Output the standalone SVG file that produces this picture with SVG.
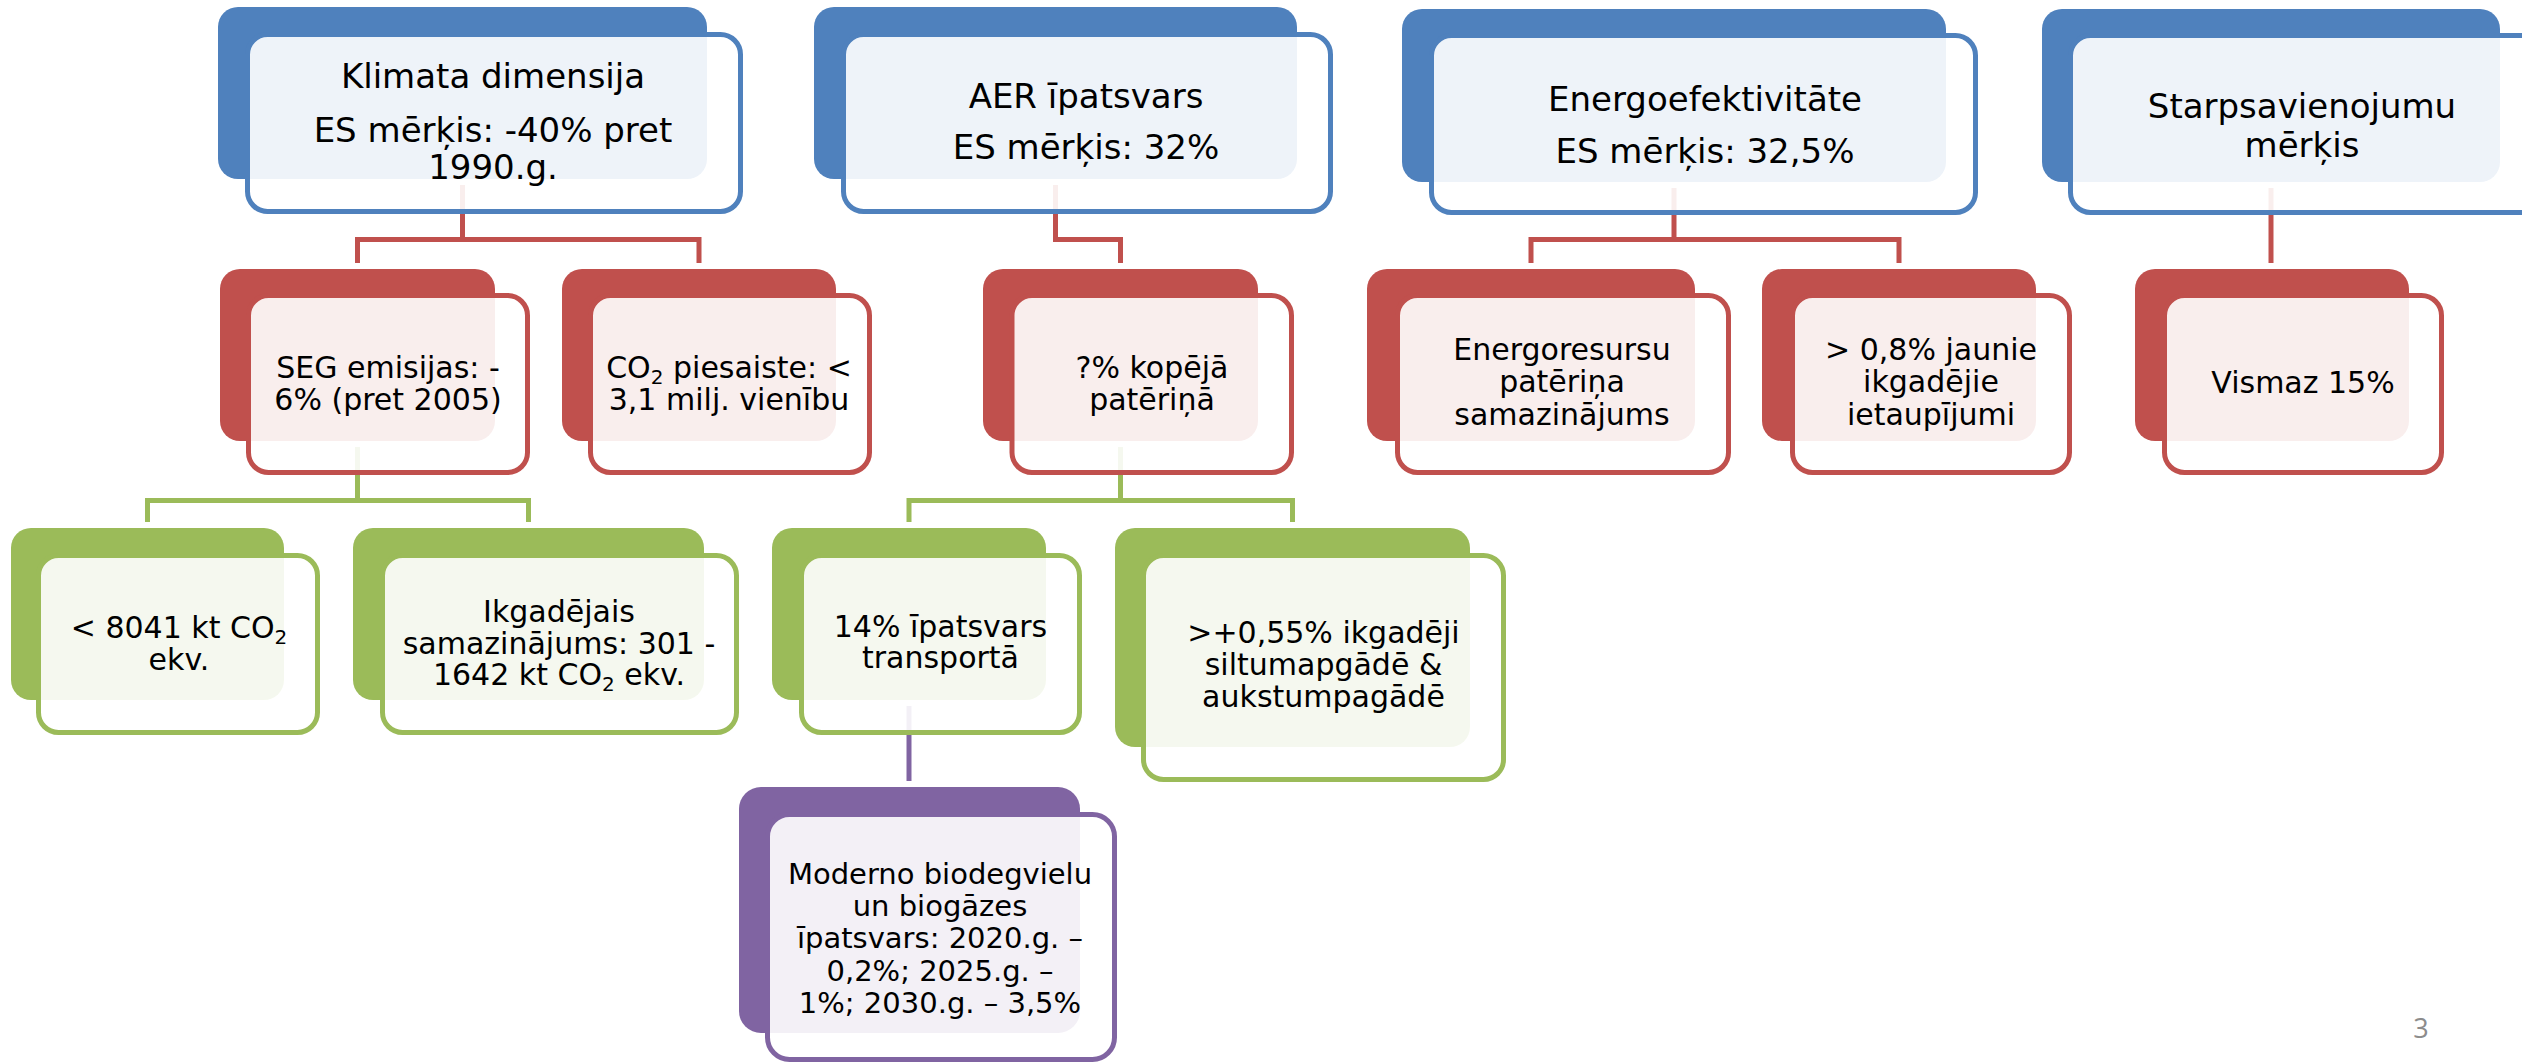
<svg xmlns="http://www.w3.org/2000/svg" width="2522" height="1064" viewBox="0 0 2522 1064">
<style>
.bg{fill:#fff}
.b{stroke:none}
.f{fill:#fff;fill-opacity:0.9;stroke-width:5}
.blue .b{fill:#4F81BD}.blue .f{stroke:#4F81BD}
.red .b{fill:#C0504D}.red .f{stroke:#C0504D}
.green .b{fill:#9BBB59}.green .f{stroke:#9BBB59}
.purple .b{fill:#8064A2}.purple .f{stroke:#8064A2}
.cn{fill:none;stroke-width:5}
.cr{stroke:#C0504D}.cg{stroke:#9BBB59}.cp{stroke:#8064A2}
text{font-family:"DejaVu Sans",Verdana,sans-serif;fill:#000;text-anchor:middle}
.h{font-size:34px}.c{font-size:30px}.p{font-size:29px}
.pg{font-family:"Open Sans","Liberation Sans",sans-serif;font-size:27px;fill:#8c8c8c}
.sub{font-size:20px}
</style>
<rect class="bg" x="0" y="0" width="2522" height="1064"/>
<g id="connectors">
<path class="cn cr" d="M462.5,185V239.5M357.5,263V239.5H699V263"/>
<path class="cn cr" d="M1055.5,185V239.5H1120.5V263"/>
<path class="cn cr" d="M1674,188V239.5M1531,263V239.5H1899V263"/>
<path class="cn cr" d="M2271,188V263"/>
<path class="cn cg" d="M357.5,447V500.5M147.5,522V500.5H528.5V522"/>
<path class="cn cg" d="M1120.5,447V500.5M909,522V500.5H1292.5V522"/>
<path class="cn cp" d="M909,706V781"/>
</g>
<g id="n-klimata" class="blue">
<rect class="b" x="218" y="7" width="489" height="172" rx="20"/>
<rect class="f" x="247.5" y="34.5" width="493" height="177" rx="20"/>
<text class="h" x="493" y="88">Klimata dimensija</text>
<text class="h" x="493" y="142">ES mērķis: -40% pret</text>
<text class="h" x="493" y="179">1990.g.</text>
</g>
<g id="n-aer" class="blue">
<rect class="b" x="814" y="7" width="483" height="172" rx="20"/>
<rect class="f" x="843.5" y="34.5" width="487" height="177" rx="20"/>
<text class="h" x="1086" y="108">AER īpatsvars</text>
<text class="h" x="1086" y="159">ES mērķis: 32%</text>
</g>
<g id="n-energo" class="blue">
<rect class="b" x="1402" y="9" width="544" height="173" rx="20"/>
<rect class="f" x="1431.5" y="35.5" width="544" height="177" rx="20"/>
<text class="h" x="1705" y="111">Energoefektivitāte</text>
<text class="h" x="1705" y="163">ES mērķis: 32,5%</text>
</g>
<g id="n-starp" class="blue">
<rect class="b" x="2042" y="9" width="458" height="173" rx="20"/>
<rect class="f" x="2070.5" y="35.5" width="470" height="177" rx="20"/>
<text class="h" x="2302" y="118">Starpsavienojumu</text>
<text class="h" x="2302" y="157">mērķis</text>
</g>
<g id="n-seg" class="red">
<rect class="b" x="220" y="269" width="275" height="172" rx="20"/>
<rect class="f" x="248.5" y="295.5" width="279" height="177" rx="20"/>
<text class="c" x="388" y="378">SEG emisijas: -</text>
<text class="c" x="388" y="410">6% (pret 2005)</text>
</g>
<g id="n-co2" class="red">
<rect class="b" x="562" y="269" width="274" height="172" rx="20"/>
<rect class="f" x="590.5" y="295.5" width="279" height="177" rx="20"/>
<text class="c" x="729" y="378">CO<tspan class="sub" dy="6">2</tspan><tspan dy="-6"> piesaiste: &lt;</tspan></text>
<text class="c" x="729" y="410">3,1 milj. vienību</text>
</g>
<g id="n-kopeja" class="red">
<rect class="b" x="983" y="269" width="275" height="172" rx="20"/>
<rect class="f" x="1012" y="295.5" width="279.5" height="177" rx="20"/>
<text class="c" x="1152" y="378">?% kopējā</text>
<text class="c" x="1152" y="410">patēriņā</text>
</g>
<g id="n-energores" class="red">
<rect class="b" x="1367" y="269" width="328" height="172" rx="20"/>
<rect class="f" x="1397.5" y="295.5" width="331" height="177" rx="20"/>
<text class="c" x="1562" y="360">Energoresursu</text>
<text class="c" x="1562" y="392">patēriņa</text>
<text class="c" x="1562" y="425">samazinājums</text>
</g>
<g id="n-ietaup" class="red">
<rect class="b" x="1762" y="269" width="274" height="172" rx="20"/>
<rect class="f" x="1792.5" y="295.5" width="277" height="177" rx="20"/>
<text class="c" x="1931" y="360">&gt; 0,8% jaunie</text>
<text class="c" x="1931" y="392">ikgadējie</text>
<text class="c" x="1931" y="425">ietaupījumi</text>
</g>
<g id="n-vismaz" class="red">
<rect class="b" x="2135" y="269" width="274" height="172" rx="20"/>
<rect class="f" x="2164.5" y="295.5" width="277" height="177" rx="20"/>
<text class="c" x="2303" y="393">Vismaz 15%</text>
</g>
<g id="n-8041" class="green">
<rect class="b" x="11" y="528" width="273" height="172" rx="20"/>
<rect class="f" x="38.5" y="555.5" width="279" height="177" rx="20"/>
<text class="c" x="179" y="638">&lt; 8041 kt CO<tspan class="sub" dy="6">2</tspan></text>
<text class="c" x="179" y="670">ekv.</text>
</g>
<g id="n-ikgad" class="green">
<rect class="b" x="353" y="528" width="351" height="172" rx="20"/>
<rect class="f" x="382.5" y="555.5" width="354" height="177" rx="20"/>
<text class="c" x="559" y="622">Ikgadējais</text>
<text class="c" x="559" y="654">samazinājums: 301 -</text>
<text class="c" x="559" y="685">1642 kt CO<tspan class="sub" dy="6">2</tspan><tspan dy="-6"> ekv.</tspan></text>
</g>
<g id="n-transp" class="green">
<rect class="b" x="772" y="528" width="274" height="172" rx="20"/>
<rect class="f" x="801.5" y="555.5" width="278" height="177" rx="20"/>
<text class="c" x="940.5" y="637">14% īpatsvars</text>
<text class="c" x="940.5" y="668">transportā</text>
</g>
<g id="n-siltum" class="green">
<rect class="b" x="1115" y="528" width="355" height="219" rx="20"/>
<rect class="f" x="1143.5" y="555.5" width="360" height="224" rx="20"/>
<text class="c" x="1323.5" y="643">&gt;+0,55% ikgadēji</text>
<text class="c" x="1323.5" y="675">siltumapgādē &amp;</text>
<text class="c" x="1323.5" y="707">aukstumpagādē</text>
</g>
<g id="n-biodeg" class="purple">
<rect class="b" x="739" y="787" width="341" height="246" rx="22"/>
<rect class="f" x="767.5" y="814.5" width="347" height="245" rx="22"/>
<text class="p" x="940" y="884">Moderno biodegvielu</text>
<text class="p" x="940" y="916">un biogāzes</text>
<text class="p" x="940" y="948">īpatsvars: 2020.g. –</text>
<text class="p" x="940" y="981">0,2%; 2025.g. –</text>
<text class="p" x="940" y="1013">1%; 2030.g. – 3,5%</text>
</g>
<text class="pg" x="2421" y="1038">3</text>
</svg>
